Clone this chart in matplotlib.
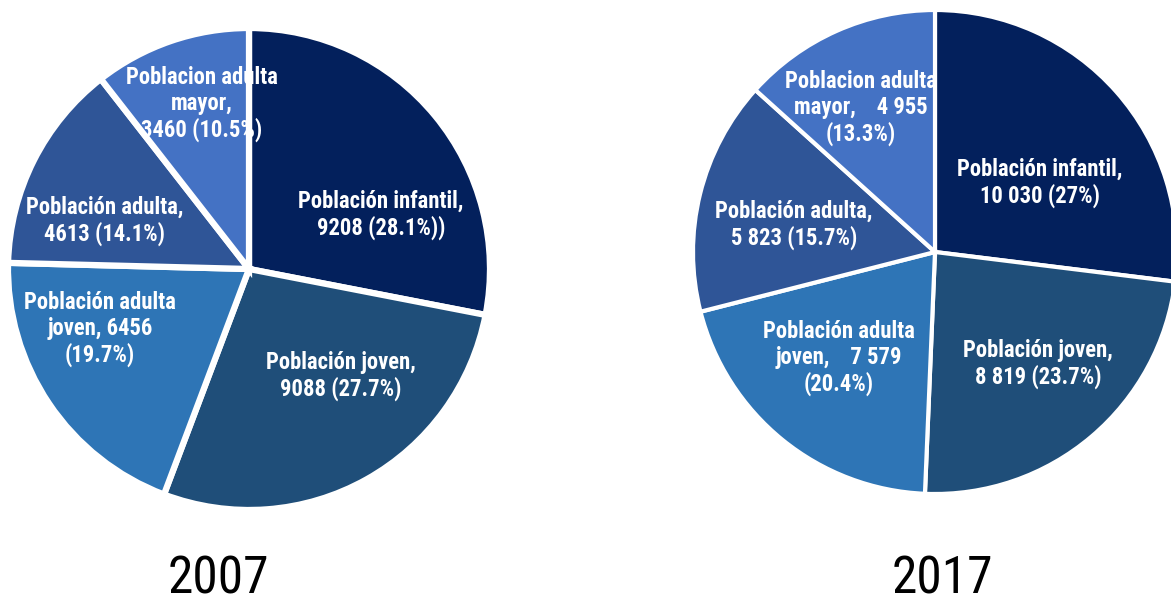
import matplotlib
matplotlib.use("Agg")
import matplotlib.pyplot as plt
from matplotlib import font_manager

categories = ["Población infantil", "Población joven", "Población adulta joven",
              "Población adulta", "Poblacion adulta mayor"]
values_2007 = [9208, 9088, 6456, 4613, 3460]
values_2017 = [10030, 8819, 7579, 5823, 4955]
labels_2007 = ["Población infantil,\n9208 (28.1%))",
               "Población joven,\n9088 (27.7%)",
               "Población adulta\njoven, 6456\n(19.7%)",
               "Población adulta,\n4613 (14.1%)",
               "Poblacion adulta\nmayor,\n3460 (10.5%)"]
labels_2017 = ["Población infantil,\n10 030 (27%)",
               "Población joven,\n8 819 (23.7%)",
               "Población adulta\njoven,    7 579\n(20.4%)",
               "Población adulta,\n5 823 (15.7%)",
               "Poblacion adulta\nmayor,    4 955\n(13.3%)"]
years = ["2007", "2017"]
colors = ["#03205C", "#1F4E79", "#2E75B6", "#2F5597", "#4472C4"]

names = {f.name for f in font_manager.fontManager.ttflist}
narrow = "DejaVu Sans"
for cand in ["Liberation Sans Narrow", "Arial Narrow", "Roboto Condensed",
             "Archivo Narrow", "Asap Condensed", "PT Sans Narrow"]:
    if cand in names:
        narrow = cand
        break
fam = [narrow, "DejaVu Sans"]

W, H = 1171, 601
fig = plt.figure(figsize=(W / 100, H / 100), dpi=100)
ax = fig.add_axes([0, 0, 1, 1])

pies = [
    (values_2007, labels_2007, (249, H - 269), 241, 4.5,
     [(0.548, 0.224), (0.38, -0.444), (-0.618, -0.249), (-0.598, 0.199), (-0.195, 0.685)],
     (218, H - 594)),
    (values_2017, labels_2017, (935, H - 252), 242, 3.0,
     [(0.434, 0.285), (0.426, -0.463), (-0.397, -0.438), (-0.583, 0.112), (-0.306, 0.595)],
     (942, H - 594)),
]

for (vals, labs, c, r, lw, offs, ypos), yr in zip(pies, years):
    ax.pie(vals, colors=colors, startangle=90, counterclock=False,
           center=c, radius=r, frame=True,
           wedgeprops=dict(edgecolor="white", linewidth=lw))
    for lab, (dx, dy) in zip(labs, offs):
        ax.text(c[0] + dx * r, c[1] + dy * r, lab, ha="center", va="center",
                color="white", fontsize=16.3, fontweight="bold", family=fam,
                linespacing=1.15)
    ax.text(ypos[0], ypos[1], yr, ha="center", va="baseline", fontsize=37,
            color="black", family=fam)

ax.set_xlim(0, W)
ax.set_ylim(0, H)
ax.set_aspect("equal")
ax.axis("off")
fig.savefig("out.png", dpi=100)
